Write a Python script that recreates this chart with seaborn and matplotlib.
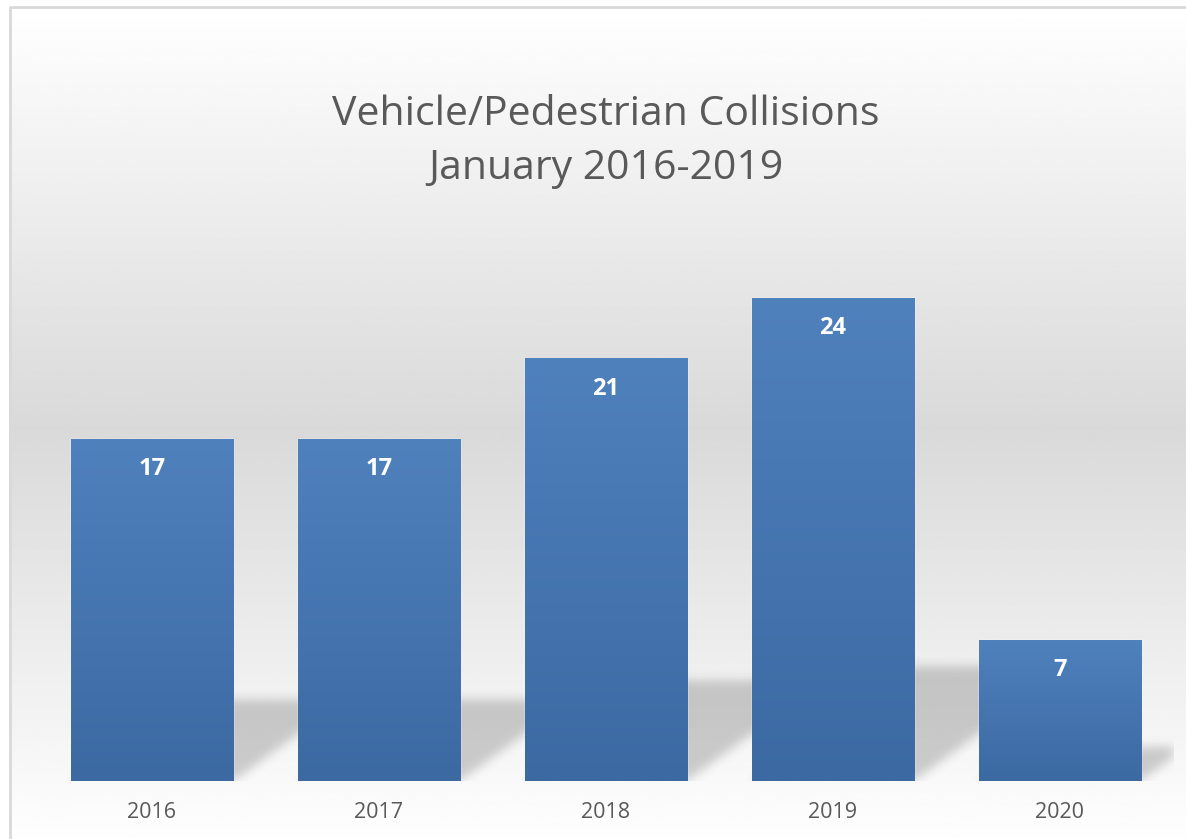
import numpy as np
import pandas as pd
import matplotlib
matplotlib.use("Agg")
import matplotlib.pyplot as plt
import seaborn as sns

years = ["2016", "2017", "2018", "2019", "2020"]
collisions = [17, 17, 21, 24, 7]
title_lines = ["Vehicle/Pedestrian Collisions", "January 2016-2019"]


def blur_1d(arr, sigma, axis):
    r = int(3 * sigma)
    k = np.exp(-0.5 * (np.arange(-r, r + 1) / sigma) ** 2)
    k /= k.sum()
    return np.apply_along_axis(lambda m: np.convolve(m, k, mode="same"), axis, arr)


def main():
    sns.set_style("white")
    plt.rcParams["font.family"] = ["Open Sans", "DejaVu Sans"]

    W, H = 1186, 839
    fig = plt.figure(figsize=(W / 100, H / 100), dpi=100)
    fig.patch.set_facecolor("white")

    # chart area background: light gray gradient inside a thin frame
    bg = fig.add_axes([0, 0, 1, 1])
    bg.set_xlim(0, W)
    bg.set_ylim(H, 0)
    bg.axis("off")
    t = np.linspace(0, 1, 400)
    shade = 1 - (38 / 255) * (1 - np.abs(2 * t - 1))
    grad = np.repeat(shade[:, None], 2, axis=1)
    bg.imshow(grad, cmap="gray", vmin=0, vmax=1, extent=[9, W + 2, 850, 6],
              aspect="auto", interpolation="bilinear")
    bg.plot([9.5, 9.5, W + 2], [H + 2, 6.5, 6.5], color="#d9d9d9", lw=2)

    df = pd.DataFrame({"year": years, "count": collisions})

    ax_left, ax_right = 38.5, 1173.5
    ax_bottom, ax_top = 781, 258
    ax = fig.add_axes([ax_left / W, (H - ax_bottom) / H,
                       (ax_right - ax_left) / W, (ax_bottom - ax_top) / H])
    ax.patch.set_alpha(0)
    ymax = 26
    bar_w = 0.714

    sns.barplot(data=df, x="year", y="count", color="#4a7ab5", width=bar_w,
                saturation=1, ax=ax, zorder=3)

    # perspective shadows behind the bars
    k_h = 0.237
    skew = 0.1226
    sh_top = 10.0
    nx, ny = 1135, int(sh_top * 20.12)
    xs = np.linspace(-0.5, 4.5, nx)
    ys = np.linspace(0, sh_top, ny)
    X, Y = np.meshgrid(xs, ys)
    mask = np.zeros_like(X)
    for i, v in enumerate(collisions):
        x0, x1 = i - bar_w / 2, i + bar_w / 2
        hs = k_h * v
        inside = (Y <= hs) & (X >= x0 + skew * Y) & (X <= x1 + skew * Y)
        mask[inside] = 1.0
    mask = blur_1d(mask, 5, 0)
    mask = blur_1d(mask, 5, 1)
    rgba = np.zeros((ny, nx, 4))
    rgba[..., :3] = 0.12
    rgba[..., 3] = mask * 0.21
    ax.imshow(rgba, extent=[-0.5, 4.5, 0, sh_top], origin="lower",
              aspect="auto", zorder=1, interpolation="bilinear")

    # vertical gradient fill on each bar
    top_c = np.array([0x4f, 0x81, 0xbd]) / 255
    bot_c = np.array([0x3c, 0x69, 0xa2]) / 255
    tt = np.linspace(0, 1, 200)[:, None]
    bar_grad = (bot_c * (1 - tt) + top_c * tt)[:, None, :]
    for p in ax.patches:
        x0, w, h = p.get_x(), p.get_width(), p.get_height()
        ax.imshow(bar_grad, extent=[x0, x0 + w, 0, h], origin="lower",
                  aspect="auto", zorder=4, interpolation="bilinear")

    for i, v in enumerate(collisions):
        ax.annotate(str(v), xy=(i, v), xytext=(0, -21.6), textcoords="offset points",
                    ha="center", va="center", color="white", fontsize=17,
                    fontweight="bold", zorder=6)

    ax.set_xlim(-0.5, 4.5)
    ax.set_ylim(0, ymax)
    ax.set_yticks([])
    ax.set_xlabel("")
    ax.set_ylabel("")
    sns.despine(ax=ax, left=True, bottom=True)
    ax.tick_params(axis="x", length=0, pad=15, labelsize=15.5, labelcolor="#595959")

    fig.text((ax_left + ax_right) / 2 / W, 1 - 142 / H, "\n".join(title_lines),
             ha="center", va="center", fontsize=29.5, color="#595959",
             linespacing=1.45)

    fig.savefig("out.png", dpi=100)
    plt.close("all")


if __name__ == "__main__":
    main()
